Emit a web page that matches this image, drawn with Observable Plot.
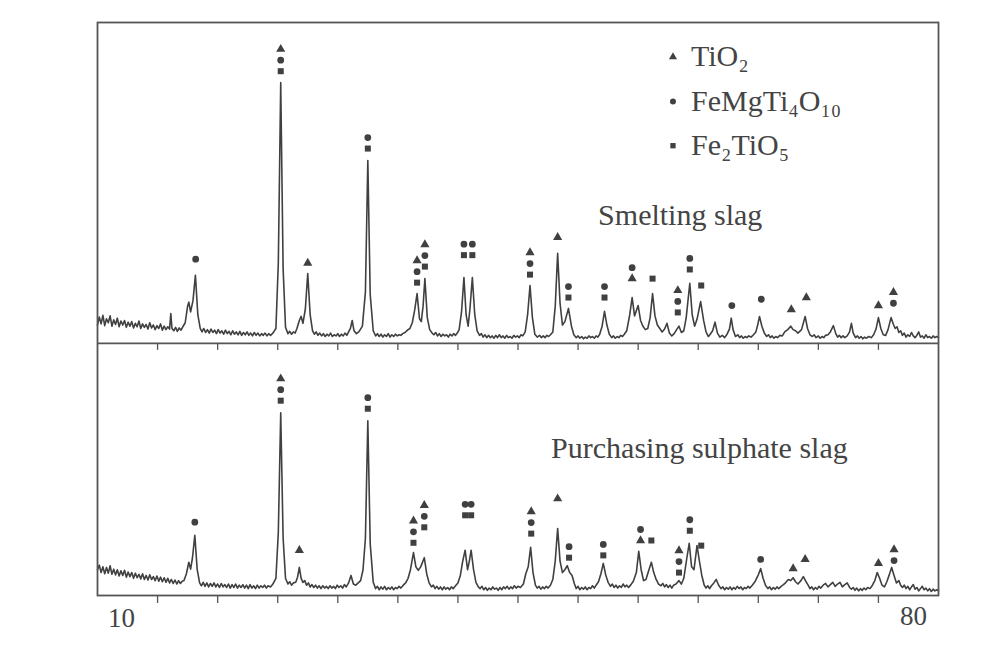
<!DOCTYPE html>
<html><head><meta charset="utf-8">
<script src="https://cdn.jsdelivr.net/npm/d3@7"></script>
<script src="https://cdn.jsdelivr.net/npm/@observablehq/plot@0.6"></script>
<style>body{margin:0;background:#fff;} svg{display:block}</style>
</head><body><div id="chart"></div>
<script>
// ---- data (2θ in degrees, intensity in arbitrary units) ----
const twoThetaTicks = [15, 20, 25, 30, 35, 40, 45, 50, 55, 60, 65, 70, 75];
const axisEndLabels = [10, 80];
const smeltingOffset = 44;   // vertical stacking offset of the upper pattern
const purchasingOffset = 0;

const smeltingSlag = [
[10.0,3.2],[10.15,4.6],[10.3,3.4],[10.45,4.9],[10.6,3.1],[10.75,4.3],[10.9,3.6],[11.05,4.8],[11.2,3.0],[11.35,4.1],[11.5,3.3],[11.65,4.4],[11.8,2.9],[11.95,3.9],[12.1,3.2],[12.25,4.0],[12.4,2.8],[12.55,3.7],[12.7,3.0],[12.85,3.8],[13.0,2.7],[13.15,3.5],[13.3,2.9],[13.45,3.9],[13.6,2.6],[13.75,3.4],[13.9,2.8],[14.05,3.3],[14.2,2.5],[14.35,3.6],[14.5,2.7],[14.65,3.2],[14.8,2.4],[14.95,3.1],[15.1,2.6],[15.25,3.4],[15.4,2.3],[15.55,3.0],[15.7,2.4],[15.85,2.9],[16.0,2.5],[16.1,5.2],[16.2,2.6],[16.35,2.2],[16.5,2.8],[16.65,2.1],[16.8,2.7],[16.95,2.3],[17.1,2.9],[17.3,3.6],[17.5,6.5],[17.6,7.2],[17.75,5.5],[17.95,7.5],[18.15,11.9],[18.35,5.0],[18.55,2.6],[18.7,2.0],[18.85,2.6],[19.0,1.9],[19.15,2.4],[19.3,1.8],[19.45,2.5],[19.6,1.9],[19.75,2.3],[19.9,1.7],[20.05,2.4],[20.2,1.8],[20.35,2.2],[20.5,1.6],[20.65,2.3],[20.8,1.7],[20.95,2.1],[21.1,1.5],[21.25,2.2],[21.4,1.6],[21.55,2.0],[21.7,1.5],[21.85,2.1],[22.0,1.4],[22.15,1.9],[22.3,1.5],[22.45,2.0],[22.6,1.4],[22.75,1.8],[22.9,1.3],[23.05,1.9],[23.2,1.4],[23.35,1.8],[23.5,1.3],[23.65,1.7],[23.8,1.4],[23.95,1.8],[24.1,1.3],[24.25,1.7],[24.4,1.4],[24.6,1.8],[24.85,2.6],[25.05,14],[25.25,45.5],[25.45,13],[25.65,2.8],[25.85,1.7],[26.0,2.1],[26.15,1.6],[26.3,2.0],[26.45,1.8],[26.6,2.6],[26.8,4.0],[26.95,4.7],[27.1,3.5],[27.3,6.0],[27.5,12.2],[27.7,5.0],[27.9,2.2],[28.05,1.6],[28.2,2.0],[28.35,1.4],[28.5,1.8],[28.65,1.3],[28.8,1.7],[28.95,1.2],[29.1,1.6],[29.25,1.3],[29.4,1.8],[29.55,1.2],[29.7,1.5],[29.85,1.3],[30.0,1.7],[30.15,1.2],[30.3,1.6],[30.45,1.3],[30.6,1.8],[30.75,1.4],[30.9,2.0],[31.05,2.6],[31.2,4.0],[31.35,2.2],[31.55,1.7],[31.75,2.0],[32.05,3.0],[32.3,9],[32.5,31.9],[32.7,8.5],[32.95,2.2],[33.15,1.3],[33.3,1.7],[33.45,1.2],[33.6,1.6],[33.75,1.1],[33.9,1.5],[34.05,1.2],[34.2,1.7],[34.35,1.1],[34.5,1.5],[34.65,1.2],[34.8,1.6],[34.95,1.3],[35.1,1.5],[35.25,1.4],[35.4,1.7],[35.6,1.9],[35.8,2.3],[36.0,2.6],[36.2,3.6],[36.4,5.8],[36.6,8.7],[36.8,4.3],[36.95,3.8],[37.1,6.5],[37.25,11.3],[37.45,4.5],[37.65,2.4],[37.85,1.8],[38.0,1.5],[38.15,1.9],[38.3,1.3],[38.45,1.7],[38.6,1.2],[38.75,1.6],[38.9,1.3],[39.05,1.5],[39.2,1.1],[39.35,1.6],[39.5,1.3],[39.65,1.7],[39.8,1.4],[39.95,1.8],[40.1,2.4],[40.3,5.5],[40.5,11.5],[40.68,5.0],[40.85,3.0],[41.0,6.0],[41.2,11.5],[41.4,5.0],[41.6,2.2],[41.8,1.4],[41.95,1.7],[42.1,1.1],[42.25,1.5],[42.4,1.0],[42.55,1.4],[42.7,1.0],[42.85,1.3],[43.0,0.9],[43.15,1.4],[43.3,1.0],[43.45,1.5],[43.6,1.0],[43.75,1.3],[43.9,0.9],[44.05,1.4],[44.2,1.0],[44.35,1.2],[44.5,0.9],[44.65,1.4],[44.8,1.1],[44.95,1.3],[45.1,1.0],[45.25,1.5],[45.4,1.3],[45.6,2.0],[45.8,5.0],[46.0,10.1],[46.2,4.5],[46.4,1.6],[46.6,1.1],[46.8,1.4],[46.95,1.0],[47.1,1.3],[47.25,1.0],[47.4,1.4],[47.55,1.2],[47.7,1.5],[47.9,2.0],[48.1,6.5],[48.3,15.7],[48.5,7.0],[48.7,3.2],[48.9,3.8],[49.2,6.1],[49.45,3.0],[49.65,1.5],[49.85,1.0],[50.0,1.3],[50.15,0.9],[50.3,1.2],[50.45,0.8],[50.6,1.1],[50.75,0.9],[50.9,1.3],[51.05,1.0],[51.2,1.2],[51.35,0.9],[51.5,1.3],[51.65,1.1],[51.8,1.6],[52.0,3.0],[52.2,5.6],[52.4,3.2],[52.6,1.6],[52.8,1.0],[52.95,1.3],[53.1,0.9],[53.25,1.2],[53.4,1.0],[53.55,1.4],[53.7,1.2],[53.85,1.6],[54.05,2.2],[54.3,5.0],[54.5,8.0],[54.7,4.8],[55.0,6.6],[55.2,4.0],[55.4,3.0],[55.6,2.4],[55.8,2.6],[56.0,4.5],[56.2,8.7],[56.4,4.8],[56.6,3.2],[56.8,2.6],[57.0,2.0],[57.2,2.5],[57.4,3.5],[57.6,1.8],[57.8,1.3],[58.0,1.7],[58.2,2.4],[58.4,3.0],[58.6,1.9],[58.8,2.2],[59.0,4.5],[59.3,10.5],[59.5,5.0],[59.7,3.0],[59.9,4.2],[60.2,7.3],[60.45,4.0],[60.65,2.0],[60.85,1.2],[61.0,1.6],[61.2,2.2],[61.4,3.7],[61.6,1.8],[61.8,1.1],[62.0,1.4],[62.2,1.0],[62.4,1.6],[62.6,2.5],[62.75,4.4],[62.9,2.4],[63.1,1.2],[63.3,1.5],[63.45,1.0],[63.6,1.3],[63.75,0.9],[63.9,1.2],[64.05,1.0],[64.2,1.3],[64.4,1.1],[64.6,1.5],[64.8,2.0],[64.95,3.2],[65.1,4.7],[65.3,3.0],[65.5,1.8],[65.7,1.2],[65.85,1.5],[66.0,1.0],[66.15,1.3],[66.3,0.9],[66.45,1.2],[66.6,1.0],[66.8,1.4],[67.0,1.3],[67.2,2.0],[67.45,2.4],[67.7,3.0],[67.9,2.4],[68.1,2.2],[68.3,1.8],[68.6,2.4],[68.9,4.7],[69.1,2.6],[69.3,1.5],[69.5,1.2],[69.65,1.5],[69.8,1.0],[70.0,1.3],[70.15,0.9],[70.3,1.2],[70.45,1.0],[70.6,1.4],[70.8,1.5],[71.0,2.0],[71.25,3.1],[71.45,1.7],[71.6,1.1],[71.75,1.4],[71.9,1.0],[72.05,1.3],[72.2,1.0],[72.4,1.3],[72.6,2.0],[72.75,3.5],[72.9,1.8],[73.1,1.0],[73.25,1.3],[73.4,0.9],[73.55,1.2],[73.7,0.8],[73.85,1.1],[74.0,0.9],[74.2,1.2],[74.4,1.0],[74.6,1.5],[74.8,2.5],[75.0,4.5],[75.2,2.6],[75.4,1.5],[75.6,1.4],[75.8,2.4],[76.05,4.5],[76.25,3.3],[76.4,2.6],[76.55,2.9],[76.7,1.9],[76.85,2.2],[77.0,1.4],[77.15,1.8],[77.3,1.1],[77.45,1.5],[77.6,1.2],[77.75,1.9],[77.9,1.3],[78.05,1.0],[78.2,1.4],[78.35,2.0],[78.5,1.1],[78.65,1.3],[78.8,0.9],[78.95,1.5],[79.1,1.0],[79.25,1.2],[79.4,0.9],[79.55,1.3],[79.7,1.0],[79.85,1.2],[80.0,1.0]
];

const purchasingSulphateSlag = [
[10.0,4.5],[10.15,5.3],[10.3,4.0],[10.45,5.0],[10.6,3.8],[10.75,4.9],[10.9,3.9],[11.05,5.2],[11.2,3.7],[11.35,4.6],[11.5,3.6],[11.65,4.5],[11.8,3.4],[11.95,4.3],[12.1,3.5],[12.25,4.4],[12.4,3.2],[12.55,4.1],[12.7,3.3],[12.85,4.0],[13.0,3.0],[13.15,3.9],[13.3,3.1],[13.45,3.7],[13.6,2.9],[13.75,3.8],[13.9,2.8],[14.05,3.5],[14.2,2.7],[14.35,3.6],[14.5,2.8],[14.65,3.3],[14.8,2.6],[14.95,3.4],[15.1,2.5],[15.25,3.2],[15.4,2.4],[15.55,3.1],[15.7,2.3],[15.85,3.0],[16.0,2.2],[16.15,2.8],[16.3,2.1],[16.45,2.7],[16.6,2.0],[16.75,2.6],[16.9,2.1],[17.05,2.5],[17.2,2.6],[17.4,3.8],[17.6,5.8],[17.75,4.6],[17.9,6.5],[18.1,10.5],[18.3,4.5],[18.5,2.2],[18.65,1.7],[18.8,2.3],[18.95,1.6],[19.1,2.2],[19.25,1.5],[19.4,2.1],[19.55,1.6],[19.7,2.2],[19.85,1.5],[20.0,2.0],[20.15,1.4],[20.3,2.1],[20.45,1.5],[20.6,1.9],[20.75,1.4],[20.9,2.0],[21.05,1.3],[21.2,1.9],[21.35,1.4],[21.5,2.0],[21.65,1.3],[21.8,1.8],[21.95,1.4],[22.1,1.9],[22.25,1.3],[22.4,1.8],[22.55,1.2],[22.7,1.9],[22.85,1.3],[23.0,1.7],[23.15,1.2],[23.3,1.8],[23.45,1.3],[23.6,1.7],[23.75,1.4],[23.9,1.8],[24.05,1.3],[24.2,1.7],[24.4,1.5],[24.6,2.0],[24.85,3.0],[25.05,11],[25.25,31.9],[25.45,10],[25.65,3.0],[25.85,2.0],[26.0,2.4],[26.15,1.8],[26.3,2.2],[26.5,2.3],[26.65,3.2],[26.8,4.9],[26.95,3.0],[27.1,2.3],[27.25,2.6],[27.4,1.8],[27.55,2.2],[27.7,1.5],[27.85,1.9],[28.0,1.4],[28.15,1.8],[28.3,1.3],[28.45,1.7],[28.6,1.2],[28.75,1.7],[28.9,1.3],[29.05,1.6],[29.2,1.2],[29.35,1.7],[29.5,1.3],[29.65,1.6],[29.8,1.2],[29.95,1.8],[30.1,1.4],[30.25,1.7],[30.4,1.3],[30.55,1.9],[30.7,1.5],[30.9,2.2],[31.1,3.5],[31.3,2.0],[31.5,1.8],[31.7,2.2],[31.9,2.6],[32.1,4.5],[32.3,10],[32.5,30.5],[32.7,9],[32.95,2.3],[33.15,1.2],[33.3,1.6],[33.45,1.0],[33.6,1.5],[33.75,1.1],[33.9,1.6],[34.05,1.0],[34.2,1.4],[34.35,1.1],[34.5,1.5],[34.65,1.0],[34.8,1.4],[34.95,1.2],[35.1,1.6],[35.25,1.3],[35.45,1.8],[35.65,2.2],[35.85,3.0],[36.05,4.5],[36.3,7.5],[36.5,5.0],[36.7,4.4],[36.9,5.0],[37.2,6.6],[37.4,3.8],[37.6,2.2],[37.8,1.5],[37.95,1.8],[38.1,1.2],[38.25,1.6],[38.4,1.1],[38.55,1.5],[38.7,1.0],[38.85,1.5],[39.0,1.1],[39.15,1.4],[39.3,1.0],[39.45,1.5],[39.6,1.2],[39.8,1.7],[40.0,2.2],[40.2,3.5],[40.4,6.0],[40.6,7.9],[40.8,4.5],[40.95,6.0],[41.1,7.9],[41.3,4.5],[41.5,2.3],[41.7,1.5],[41.85,1.2],[42.0,1.6],[42.15,1.0],[42.3,1.4],[42.45,0.9],[42.6,1.3],[42.75,1.0],[42.9,1.5],[43.05,1.1],[43.2,1.3],[43.35,0.9],[43.5,1.4],[43.65,1.0],[43.8,1.5],[43.95,1.2],[44.1,1.6],[44.25,1.1],[44.4,1.5],[44.55,1.2],[44.7,1.7],[44.85,1.3],[45.0,1.6],[45.2,1.4],[45.45,2.0],[45.65,3.8],[45.85,5.0],[46.05,8.4],[46.25,4.0],[46.45,1.8],[46.6,1.3],[46.75,1.6],[46.9,1.1],[47.05,1.5],[47.2,1.2],[47.35,1.6],[47.5,1.3],[47.7,1.8],[47.9,2.8],[48.1,6.0],[48.3,11.7],[48.5,6.0],[48.7,4.0],[48.9,4.5],[49.1,5.2],[49.3,4.0],[49.5,3.5],[49.7,2.0],[49.85,1.2],[50.0,1.6],[50.15,1.0],[50.3,1.4],[50.45,1.1],[50.6,1.5],[50.75,1.0],[50.9,1.4],[51.05,1.2],[51.2,1.7],[51.35,1.3],[51.5,1.8],[51.7,2.4],[51.9,3.8],[52.1,5.6],[52.3,3.6],[52.5,2.3],[52.7,1.6],[52.85,2.0],[53.0,1.4],[53.15,1.8],[53.3,1.3],[53.45,1.7],[53.6,1.4],[53.75,2.0],[53.9,1.5],[54.05,1.8],[54.2,1.4],[54.4,1.9],[54.6,2.5],[54.85,4.0],[55.05,7.7],[55.25,4.5],[55.45,2.6],[55.65,2.8],[55.9,4.5],[56.1,5.8],[56.3,4.0],[56.5,2.8],[56.7,2.0],[56.9,1.7],[57.05,2.1],[57.2,1.5],[57.35,1.9],[57.5,1.4],[57.65,1.8],[57.8,1.3],[57.95,1.8],[58.15,2.0],[58.4,2.6],[58.6,2.0],[58.8,3.0],[59.05,6.5],[59.25,9.1],[59.45,5.0],[59.65,4.5],[59.9,8.7],[60.1,6.0],[60.3,3.5],[60.5,1.8],[60.65,1.3],[60.8,1.7],[60.95,1.2],[61.1,1.7],[61.3,2.2],[61.5,2.8],[61.7,1.8],[61.9,1.2],[62.05,1.5],[62.2,1.0],[62.35,1.4],[62.5,1.1],[62.65,1.5],[62.8,1.0],[62.95,1.4],[63.1,1.1],[63.25,1.6],[63.4,1.2],[63.55,1.5],[63.7,1.0],[63.85,1.4],[64.0,1.2],[64.15,1.6],[64.3,1.3],[64.5,1.8],[64.75,2.5],[65.0,3.6],[65.2,4.7],[65.4,3.0],[65.6,1.8],[65.8,1.2],[65.95,1.5],[66.1,1.0],[66.25,1.4],[66.4,1.1],[66.55,1.5],[66.7,1.2],[66.9,1.6],[67.1,1.9],[67.3,2.3],[67.5,2.8],[67.7,2.6],[67.9,3.1],[68.1,2.4],[68.3,2.0],[68.55,2.6],[68.75,3.3],[68.95,2.5],[69.15,1.8],[69.3,1.2],[69.45,1.5],[69.6,1.0],[69.75,1.4],[69.9,1.1],[70.05,1.6],[70.2,1.3],[70.4,1.8],[70.6,2.1],[70.8,1.5],[71.0,1.9],[71.2,2.3],[71.4,1.6],[71.6,2.0],[71.8,2.3],[72.0,1.5],[72.2,1.9],[72.4,2.2],[72.6,1.4],[72.75,1.1],[72.9,1.4],[73.05,0.9],[73.2,1.3],[73.35,0.8],[73.5,1.2],[73.65,0.9],[73.8,1.3],[73.95,1.0],[74.1,1.4],[74.3,1.2],[74.5,1.8],[74.7,2.6],[74.9,4.0],[75.1,3.0],[75.3,1.8],[75.5,1.5],[75.7,2.4],[75.9,3.6],[76.1,4.9],[76.3,3.5],[76.5,2.2],[76.7,2.6],[76.85,1.8],[77.0,1.4],[77.15,1.8],[77.3,1.2],[77.45,1.6],[77.6,1.0],[77.75,1.5],[77.9,1.9],[78.05,1.1],[78.2,1.4],[78.35,0.8],[78.5,1.2],[78.65,1.6],[78.8,1.0],[78.95,1.3],[79.1,0.8],[79.25,1.2],[79.4,0.7],[79.55,1.1],[79.7,0.8],[79.85,1.0],[80.0,0.8]
];

// phase codes: T = TiO2, S = FeMgTi4O10, Q = Fe2TiO5
const phaseCodes = ["T", "S", "Q"];
const phaseNames = ["TiO₂", "FeMgTi₄O₁₀", "Fe₂TiO₅"];
const phaseShapes = ["triangle", "circle", "square"];

// peak annotations: [2θ, phases listed top→bottom, intensity of lowest marker]
const smeltingPeaks = [
[18.17,"S",14.7],[25.25,"TSQ",47.5],[27.5,"T",14.0],[32.5,"SQ",34.0],[36.6,"TSQ",10.6],[37.25,"TSQ",13.4],
[40.5,"SQ",15.4],[41.2,"SQ",15.4],[46.0,"TSQ",12.0],[48.3,"T",18.5],[49.2,"SQ",8.0],[52.2,"SQ",8.0],
[54.5,"ST",11.3],[56.2,"Q",11.3],[58.3,"TSQ",5.4],[59.3,"SQ",12.9],[60.25,"Q",10.1],[62.8,"S",6.6],
[65.25,"S",7.7],[67.75,"T",5.9],[69.0,"T",8.0],[75.0,"T",6.6],[76.25,"TS",7.0]
];
const purchasingPeaks = [
[18.1,"S",12.8],[25.25,"TSQ",34.0],[26.8,"T",7.9],[32.5,"SQ",32.6],[36.3,"TSQ",9.2],[37.2,"TSQ",11.9],
[40.6,"SQ",14.0],[41.1,"SQ",14.0],[46.1,"TSQ",10.8],[48.3,"T",16.9],[49.25,"SQ",6.6],[52.1,"SQ",7.0],
[55.2,"ST",9.6],[56.1,"Q",9.6],[58.4,"TSQ",4.0],[59.3,"SQ",11.3],[60.25,"Q",8.7],[65.2,"S",6.3],
[67.9,"T",4.7],[68.9,"T",6.3],[75.0,"T",5.6],[76.3,"TS",6.1]
];

const panelTitles = [
  {text: "Smelting slag", x: 58.5, y: 66.3},
  {text: "Purchasing sulphate slag", x: 60.1, y: 25.7}
];
const legendPos = {markerX: 57.9, textX: 59.4, y: [94.0, 86.2, 78.5]};

// ---- build ----
const FONT = "'Liberation Serif','Times New Roman',serif";
const INK = "#404040";

function expand(peaks, offset) {
  const out = [];
  for (const [x, codes, base] of peaks) {
    const arr = codes.split("");
    const n = arr.length;
    arr.forEach((c, i) => out.push({x, y: base + offset, level: n - 1 - i, code: c}));
  }
  return out;
}
const markers = [...expand(smeltingPeaks, smeltingOffset), ...expand(purchasingPeaks, purchasingOffset)];
const STEP = 11;

const legendData = phaseCodes.map((c, i) => ({code: c, name: phaseNames[i], y: legendPos.y[i]}));

const markerMarks = [0, 1, 2].map(level =>
  Plot.dot(markers.filter(d => d.level === level), {
    x: "x", y: "y", symbol: "code", fill: INK, r: 3.4, dy: -STEP * level
  })
);

const chart = Plot.plot({
  width: 1000, height: 661,
  marginLeft: 97, marginRight: 62, marginTop: 22, marginBottom: 66,
  x: {domain: [10, 80], axis: null},
  y: {domain: [0, 100], axis: null},
  symbol: {domain: phaseCodes, range: phaseShapes},
  marks: [
    Plot.line(smeltingSlag, {x: d => d[0], y: d => d[1] + smeltingOffset, stroke: INK, strokeWidth: 1.6}),
    Plot.line(purchasingSulphateSlag, {x: d => d[0], y: d => d[1] + purchasingOffset, stroke: INK, strokeWidth: 1.6}),
    ...markerMarks,
    Plot.ruleY([smeltingOffset], {stroke: "#555", strokeWidth: 1.8}),
    Plot.frame({stroke: "#555", strokeWidth: 1.8}),
    Plot.ruleX(twoThetaTicks, {x: d => d, y1: smeltingOffset, y2: smeltingOffset, insetBottom: -7, stroke: "#555", strokeWidth: 1.3}),
    Plot.ruleX(twoThetaTicks, {x: d => d, y1: 0, y2: 0, insetBottom: -8, stroke: "#555", strokeWidth: 1.3}),
    Plot.text([axisEndLabels[0]], {x: d => d, frameAnchor: "bottom", dy: 31, dx: 24, text: d => String(d), fontFamily: FONT, fontSize: 27, fill: "#444"}),
    Plot.text([axisEndLabels[1]], {x: d => d, frameAnchor: "bottom", dy: 29, dx: -25, text: d => String(d), fontFamily: FONT, fontSize: 27, fill: "#444"}),
    Plot.text(panelTitles, {x: "x", y: "y", text: "text", fontFamily: FONT, fontSize: 30, fill: "#444"}),
    Plot.dot(legendData, {x: () => legendPos.markerX, y: "y", symbol: "code", fill: INK, r: 3}),
    Plot.text(legendData, {x: () => legendPos.textX, y: "y", text: "name", textAnchor: "start", fontFamily: FONT, fontSize: 30, fill: "#444"})
  ]
});
document.getElementById("chart").append(chart);
</script>
</body></html>
